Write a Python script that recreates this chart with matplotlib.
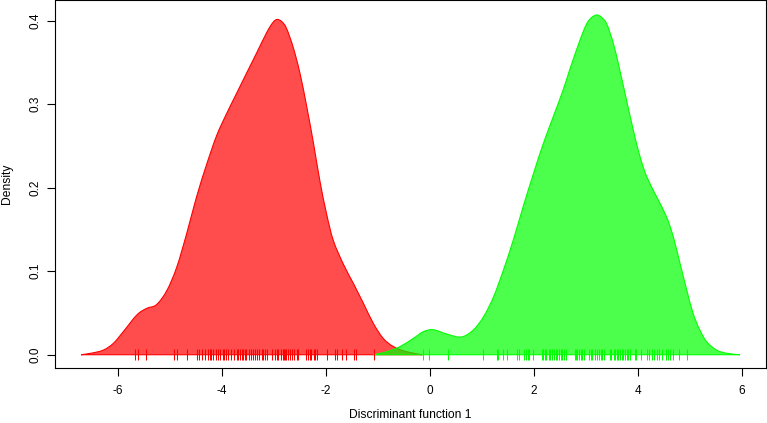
import matplotlib
matplotlib.use('Agg')
import matplotlib.pyplot as plt
from matplotlib.path import Path
from matplotlib.patches import PathPatch
import numpy as np

plt.rcParams['font.family'] = ['Liberation Sans', 'DejaVu Sans']

# density curves (x, density)
red_x = [-6.71, -6.50, -6.28, -6.09, -5.90, -5.64, -5.45, -5.26, -5.06, -4.87, -4.68, -4.49,
         -4.29, -4.10, -3.91, -3.72, -3.53, -3.33, -3.14, -3.02, -2.94, -2.85, -2.76, -2.63,
         -2.50, -2.37, -2.24, -2.12, -1.99, -1.86, -1.67, -1.47, -1.28, -1.09, -0.90, -0.70,
         -0.45, -0.15]
red_y = [0.0, 0.002, 0.0056, 0.0136, 0.0275, 0.0475, 0.0555, 0.0600, 0.077, 0.105, 0.145, 0.189,
         0.229, 0.263, 0.289, 0.313, 0.337, 0.362, 0.386, 0.398, 0.4016, 0.399, 0.391, 0.368,
         0.337, 0.297, 0.253, 0.209, 0.169, 0.137, 0.109, 0.085, 0.0615, 0.0376, 0.0196, 0.0096,
         0.0036, 0.0]

green_x = [-1.09, -0.83, -0.58, -0.32, -0.13, 0.06, 0.32, 0.60, 0.83, 1.03, 1.22, 1.41, 1.60,
           1.79, 1.99, 2.18, 2.37, 2.56, 2.69, 2.88, 3.01, 3.11, 3.21, 3.30, 3.40, 3.53, 3.65,
           3.78, 3.91, 4.04, 4.17, 4.36, 4.55, 4.68, 4.81, 4.94, 5.06, 5.19, 5.32, 5.51, 5.71,
           5.96]
green_y = [0.0, 0.0036, 0.0096, 0.0196, 0.0275, 0.0300, 0.0248, 0.0212, 0.0295, 0.0455, 0.069,
           0.101, 0.137, 0.177, 0.217, 0.253, 0.285, 0.317, 0.342, 0.376, 0.396, 0.404, 0.407,
           0.404, 0.396, 0.372, 0.341, 0.305, 0.269, 0.237, 0.213, 0.189, 0.165, 0.141, 0.109,
           0.077, 0.0495, 0.0295, 0.0156, 0.0056, 0.0017, 0.0]

# rug: individual scores
red_rug = [-5.67, -5.62, -5.46, -4.92, -4.87, -4.68, -4.49, -4.44, -4.39, -4.33, -4.26, -4.24,
           -4.22, -4.17, -4.12, -4.07, -4.04, -3.99, -3.96, -3.93, -3.88, -3.83, -3.77, -3.72,
           -3.69, -3.65, -3.62, -3.60, -3.56, -3.53, -3.49, -3.45, -3.40, -3.37, -3.33, -3.29,
           -3.24, -3.21, -3.17, -3.14, -3.03, -2.98, -2.95, -2.92, -2.87, -2.83, -2.81, -2.78,
           -2.76, -2.73, -2.69, -2.65, -2.61, -2.56, -2.53, -2.38, -2.34, -2.31, -2.28, -2.24,
           -2.21, -2.17, -1.99, -1.82, -1.78, -1.70, -1.62, -1.47, -1.42, -1.07]
green_rug = [-0.13, -0.01, 0.34, 1.01, 1.28, 1.31, 1.41, 1.49, 1.67, 1.72, 1.81, 1.85, 1.88,
             1.91, 1.99, 2.15, 2.18, 2.21, 2.24, 2.28, 2.31, 2.35, 2.38, 2.42, 2.45, 2.48, 2.51,
             2.54, 2.58, 2.61, 2.78, 2.80, 2.83, 2.87, 2.90, 2.93, 2.96, 3.06, 3.09, 3.12, 3.17,
             3.22, 3.25, 3.28, 3.31, 3.35, 3.46, 3.49, 3.53, 3.56, 3.59, 3.62, 3.65, 3.69, 3.72,
             3.75, 3.78, 3.81, 3.85, 3.94, 3.97, 4.05, 4.17, 4.22, 4.26, 4.31, 4.36, 4.41, 4.46,
             4.54, 4.58, 4.62, 4.67, 4.79, 4.95]

x_ticks = [-6, -4, -2, 0, 2, 4, 6]
y_ticks = [0.0, 0.1, 0.2, 0.3, 0.4]


def smooth_path(xs, ys):
    # closed outline: Catmull-Rom through the read points, straight baseline back
    p = np.column_stack([xs, ys])
    verts = [p[0]]
    codes = [Path.MOVETO]
    n = len(p)
    for i in range(n - 1):
        p0 = p[max(i - 1, 0)]
        p1, p2 = p[i], p[i + 1]
        p3 = p[min(i + 2, n - 1)]
        verts += [p1 + (p2 - p0) / 6, p2 - (p3 - p1) / 6, p2]
        codes += [Path.CURVE4] * 3
    verts += [p[0], p[0]]
    codes += [Path.LINETO, Path.CLOSEPOLY]
    return Path(verts, codes)


W, H = 767, 423
fig = plt.figure(figsize=(W / 100, H / 100), dpi=100)
ax = fig.add_axes([55 / W, (H - 368) / H, (766 - 55) / W, 367.5 / H])

ax.add_patch(PathPatch(smooth_path(red_x, red_y), facecolor=(1, 0, 0, 0.7),
                       edgecolor='red', linewidth=0.8))
ax.add_patch(PathPatch(smooth_path(green_x, green_y), facecolor=(0, 1, 0, 0.7),
                       edgecolor=(0, 1, 0), linewidth=0.8))

ax.vlines(red_rug, -0.0064, 0.0066, color='red', linewidth=0.75)
ax.vlines(green_rug, -0.0064, 0.0066, color=(0, 1, 0), linewidth=0.75)

ax.set_xlim(-7.212, 6.462)
ax.set_ylim(-0.0159, 0.4243)
ax.set_xticks(x_ticks)
ax.set_xticklabels([str(t) for t in x_ticks])
ax.set_yticks(y_ticks)
ax.set_yticklabels([f"{t:.1f}" for t in y_ticks], rotation=90, va='center')
ax.tick_params(direction='out', length=5.5, width=0.8, labelsize=8.5)
ax.tick_params(axis='x', pad=6.5)
ax.tick_params(axis='y', pad=4.5)
for s in ax.spines.values():
    s.set_linewidth(0.8)

fig.text(410 / W, 1 - 415 / H, 'Discriminant function 1', ha='center', va='center', fontsize=8.7)
fig.text(6.5 / W, 1 - 184 / H, 'Density', ha='center', va='center', rotation=90, fontsize=8.7)

fig.savefig('out.png', dpi=100)
